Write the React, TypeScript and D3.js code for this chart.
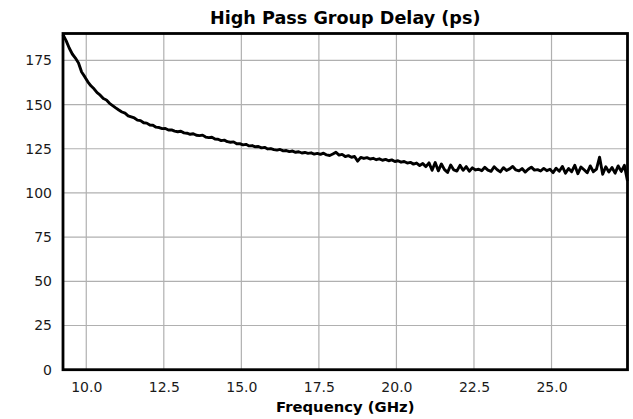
import React, { useEffect, useRef } from 'react'
import * as d3 from 'd3'

// frequency grid of the measurement (GHz)
const freqStart = 9.25
const freqStep = 0.1

// group delay in ps, one value per frequency step
const delays = [
  189.5, 186.2, 182.0, 178.6, 176.3, 173.5, 168.4, 165.8, 162.9, 160.6,
  158.9, 156.7, 155.3, 153.4, 152.6, 150.7, 149.4, 148.1, 146.9, 145.8,
  145.1, 143.6, 143.0, 142.4, 141.2, 140.9, 139.7, 139.5, 138.4, 138.3,
  137.2, 137.0, 136.4, 136.5, 135.6, 135.7, 135.0, 134.6, 134.9, 134.0,
  133.8, 133.2, 133.5, 132.6, 132.4, 132.7, 131.6, 131.3, 131.5, 130.5,
  130.4, 129.6, 129.9, 129.0, 128.7, 128.9, 127.8, 127.9, 127.2, 127.5,
  126.6, 126.8, 126.1, 126.3, 125.5, 125.8, 124.9, 125.1, 124.5, 124.2,
  124.6, 123.8, 124.0, 123.4, 123.7, 123.0, 123.3, 122.6, 122.9, 122.4,
  122.7, 122.0, 122.4, 121.8, 122.5, 121.5, 121.2, 122.0, 123.0, 121.4,
  121.8, 120.6, 121.1, 120.2, 120.6, 118.0, 120.1, 119.5, 120.0, 119.2,
  119.6, 118.8, 119.3, 118.5, 119.0, 118.2, 118.7, 117.8, 118.2, 117.4,
  117.8, 116.9, 117.3, 116.3, 116.9, 115.5, 116.6, 114.9, 117.0, 112.8,
  117.2, 112.5, 116.4, 113.2, 111.6, 115.8, 113.0, 112.4, 115.6, 112.8,
  114.9, 112.3, 114.2, 113.0, 113.4, 112.6, 114.5, 112.9, 112.2, 114.8,
  113.1, 111.9, 114.3, 112.7, 113.6, 115.0, 113.0, 112.5, 113.8, 111.8,
  113.4, 114.6, 112.9, 113.2, 112.4, 113.9, 112.6, 113.4, 111.5, 114.0,
  112.3, 115.0, 111.2, 113.8, 112.0, 115.6, 110.9, 114.7, 113.1, 111.4,
  115.3, 112.0, 113.5, 120.2, 110.6, 114.8, 111.9, 114.4, 111.2, 115.3,
  112.2, 115.6, 106.8,
]

const xTicks = [10, 12.5, 15, 17.5, 20, 22.5, 25]
const yTicks = [0, 25, 50, 75, 100, 125, 150, 175]
const yMax = 190.2

const App = () => {
  const ref = useRef<SVGSVGElement>(null)

  useEffect(() => {
    const svg = d3.select(ref.current)
    svg.selectAll('*').remove()

    const width = 633
    const height = 419
    const left = 63
    const right = 627.5
    const top = 33.5
    const bottom = 369.7

    const points = delays.map((d, i) => ({ f: freqStart + i * freqStep, d }))

    const x = d3
      .scaleLinear()
      .domain([freqStart, freqStart + (delays.length - 1) * freqStep])
      .range([left, right])
    const y = d3.scaleLinear().domain([0, yMax]).range([bottom, top])

    svg.attr('width', width).attr('height', height)

    // grid
    svg
      .append('g')
      .selectAll('line')
      .data(xTicks)
      .enter()
      .append('line')
      .attr('x1', d => x(d))
      .attr('x2', d => x(d))
      .attr('y1', top)
      .attr('y2', bottom)
      .attr('stroke', '#b0b0b0')
      .attr('stroke-width', 1.2)
    svg
      .append('g')
      .selectAll('line')
      .data(yTicks)
      .enter()
      .append('line')
      .attr('x1', left)
      .attr('x2', right)
      .attr('y1', d => y(d))
      .attr('y2', d => y(d))
      .attr('stroke', '#b0b0b0')
      .attr('stroke-width', 1.2)

    // axes (labels only)
    const xAxis = d3
      .axisBottom(x)
      .tickValues(xTicks)
      .tickFormat(d3.format('.1f'))
      .tickSize(0)
      .tickPadding(12)
    const gx = svg
      .append('g')
      .attr('transform', `translate(0,${bottom})`)
      .call(xAxis)
    gx.select('.domain').remove()
    gx.selectAll('text')
      .attr('font-family', 'DejaVu Sans')
      .attr('font-size', 14)
      .attr('fill', '#1a1a1a')

    const yAxis = d3.axisLeft(y).tickValues(yTicks).tickSize(0).tickPadding(11)
    const gy = svg.append('g').attr('transform', `translate(${left},0)`).call(yAxis)
    gy.select('.domain').remove()
    gy.selectAll('text')
      .attr('font-family', 'DejaVu Sans')
      .attr('font-size', 14)
      .attr('fill', '#1a1a1a')

    // the curve
    const line = d3
      .line<{ f: number; d: number }>()
      .x(p => x(p.f))
      .y(p => y(p.d))
    svg
      .append('path')
      .datum(points)
      .attr('d', line)
      .attr('fill', 'none')
      .attr('stroke', '#000')
      .attr('stroke-width', 2.9)
      .attr('stroke-linejoin', 'round')

    // frame
    svg
      .append('rect')
      .attr('x', left)
      .attr('y', top)
      .attr('width', right - left)
      .attr('height', bottom - top)
      .attr('fill', 'none')
      .attr('stroke', '#000')
      .attr('stroke-width', 2.8)

    svg
      .append('text') // title
      .attr('x', (left + right) / 2)
      .attr('y', 24)
      .attr('text-anchor', 'middle')
      .attr('font-family', 'DejaVu Sans')
      .attr('font-weight', 'bold')
      .attr('font-size', 17.6)
      .text('High Pass Group Delay (ps)')

    svg
      .append('text') // x label
      .attr('x', (left + right) / 2)
      .attr('y', 412)
      .attr('text-anchor', 'middle')
      .attr('font-family', 'DejaVu Sans')
      .attr('font-weight', 'bold')
      .attr('font-size', 14.8)
      .text('Frequency (GHz)')
  }, [])

  return <svg ref={ref} style={{ position: 'absolute', left: 0, top: 0 }} />
}

export default App
